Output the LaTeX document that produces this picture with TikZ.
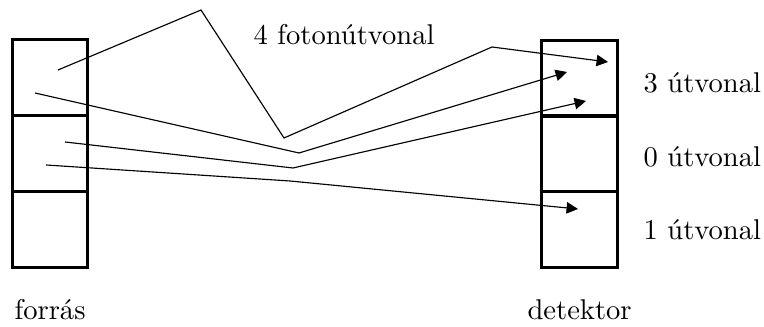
\documentclass[tikz,border=0pt]{standalone}
\usetikzlibrary{arrows.meta}
\begin{document}
\begin{tikzpicture}[x=0.35pt,y=-0.35pt,
  cell/.style={draw,line width=1.05pt,inner sep=0pt,minimum width=26.6pt,minimum height=26.6pt},
  path/.style={line width=0.4pt},
  arr/.style={path,-{Triangle[length=4pt,width=4pt]}},
  lbl/.style={inner sep=0pt,anchor=base west,font=\fontsize{10}{12}\selectfont}]
\useasboundingbox (0,0) rectangle (764,327);
% source cells
\node[cell] (s1) at (50,78) {};
\node[cell] (s2) at (50,154) {};
\node[cell] (s3) at (50,230) {};
% detector cells
\node[cell] (d1) at (579.5,79) {};
\node[cell] (d2) at (579.5,154) {};
\node[cell] (d3) at (579.5,229.5) {};
% path points
\coordinate (a0) at (58,70);
\coordinate (a1) at (201,10);
\coordinate (a2) at (284,138);
\coordinate (a3) at (492,47);
\coordinate (a4) at (608,62);
\coordinate (b0) at (35,93);
\coordinate (b1) at (299,153);
\coordinate (b2) at (567,72);
\coordinate (c0) at (65,142);
\coordinate (c1) at (293,168);
\coordinate (c2) at (586,101);
\coordinate (e0) at (46,165);
\coordinate (e1) at (290,181);
\coordinate (e2) at (578,209);
\draw[arr] (a0) -- (a1) -- (a2) -- (a3) -- (a4);
\draw[arr] (b0) -- (b1) -- (b2);
\draw[arr] (c0) -- (c1) -- (c2);
\draw[arr] (e0) -- (e1) -- (e2);
% labels
\node[lbl] (t0) at (253,45) {4 fotonútvonal};
\node[lbl] (t1) at (643,93) {3 útvonal};
\node[lbl] (t2) at (643,167) {0 útvonal};
\node[lbl] (t3) at (643,240) {1 útvonal};
\node[lbl] (t4) at (14,320) {forrás};
\node[lbl] (t5) at (527,320) {detektor};
\end{tikzpicture}
\end{document}
